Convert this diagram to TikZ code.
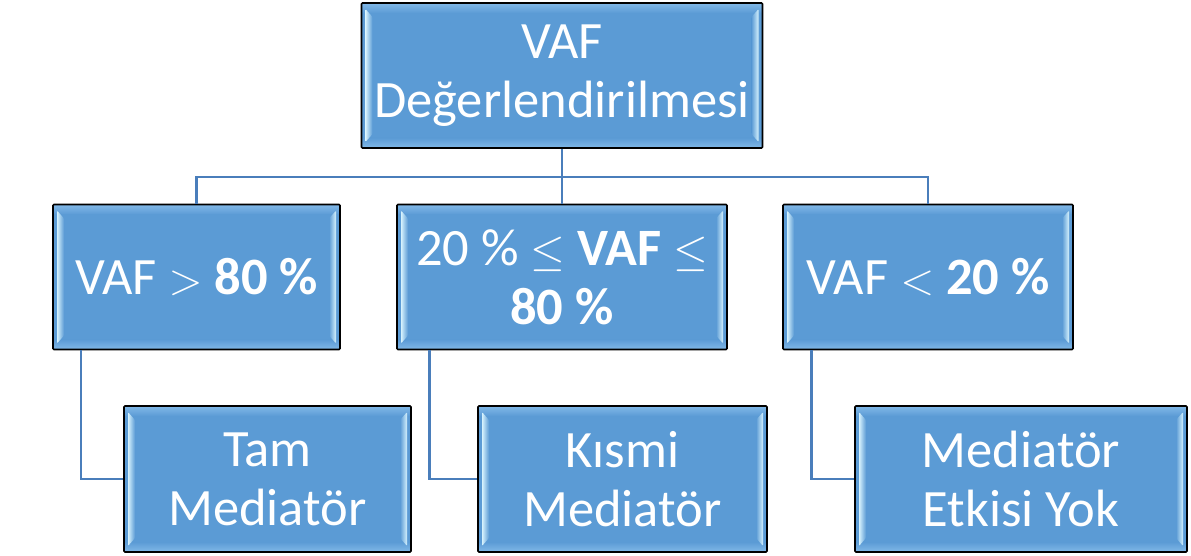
\RequirePackage{fix-cm}
\documentclass[tikz,border=0pt]{standalone}
\usepackage{fontspec}
\setmainfont{Carlito}
\usetikzlibrary{calc}
\definecolor{boxfill}{RGB}{91,155,213}
\definecolor{bevlight}{RGB}{214,242,253}
\definecolor{bevtop}{RGB}{130,185,232}
\definecolor{conn}{RGB}{74,126,187}
\newcommand{\relgt}{\scalebox{0.85}{$>$}}
\newcommand{\rellt}{\scalebox{0.85}{$<$}}
\newcommand{\relle}{\scalebox{0.85}{$\leq$}}
\tikzset{
  bevbox/.style={draw=black, line width=1.6pt, fill=boxfill, rounded corners=1pt,
    text=white, align=center, inner sep=0pt,
    font=\fontsize{52.5}{59}\selectfont,
    path picture={
      \coordinate (nw) at (path picture bounding box.north west);
      \coordinate (se) at (path picture bounding box.south east);
      \fill[top color=bevtop, bottom color=boxfill] (nw) rectangle ($(nw-|se)+(0,10)$);
      \fill[top color=boxfill, bottom color=bevtop] ($(nw|-se)+(0,-10)$) rectangle (se);
      \fill[left color=bevlight, right color=boxfill]
        ($(nw)+(4,6)$) -- ($(nw)+(11,14)$) -- ($(nw|-se)+(11,-14)$) -- ($(nw|-se)+(4,-6)$) -- cycle;
      \fill[right color=bevlight, left color=boxfill]
        ($(nw-|se)+(-4,6)$) -- ($(nw-|se)+(-11,14)$) -- ($(se)+(-11,-14)$) -- ($(se)+(-4,-6)$) -- cycle;
    }},
  connline/.style={draw=conn, line width=2.6pt}
}
\begin{document}
\begin{tikzpicture}[x=1pt,y=-1pt]
\useasboundingbox (0,0) rectangle (1191,556);
\coordinate (bus) at (562,177);
\node[bevbox, minimum width=401pt, minimum height=145pt] (top) at (562,75.5) {VAF\\Değerlendirilmesi};
\node[bevbox, minimum width=287pt, minimum height=145pt] (A) at (196.5,277) {VAF \relgt{} \textbf{80 \%}};
\node[bevbox, minimum width=330pt, minimum height=145pt] (B) at (562,277) {20 \% \relle{} \textbf{VAF} \relle\\\textbf{80 \%}};
\node[bevbox, minimum width=290pt, minimum height=145pt] (C) at (928,277) {VAF \rellt{} \textbf{20 \%}};
\node[bevbox, minimum width=287pt, minimum height=146pt] (D) at (267.5,479) {Tam\\Mediatör};
\node[bevbox, minimum width=289pt, minimum height=146pt] (E) at (622.5,479) {Kısmi\\Mediatör};
\node[bevbox, minimum width=332pt, minimum height=146pt] (F) at (1021,479) {Mediatör\\Etkisi Yok};
\draw[connline] (top.south) -- (bus);
\draw[connline] (bus) -| (A.north);
\draw[connline] (bus) -- (B.north);
\draw[connline] (bus) -| (C.north);
\draw[connline] ($(A.south west)!0.1!(A.south east)$) |- (D.west);
\draw[connline] ($(B.south west)!0.1!(B.south east)$) |- (E.west);
\draw[connline] ($(C.south west)!0.1!(C.south east)$) |- (F.west);
\end{tikzpicture}
\end{document}
